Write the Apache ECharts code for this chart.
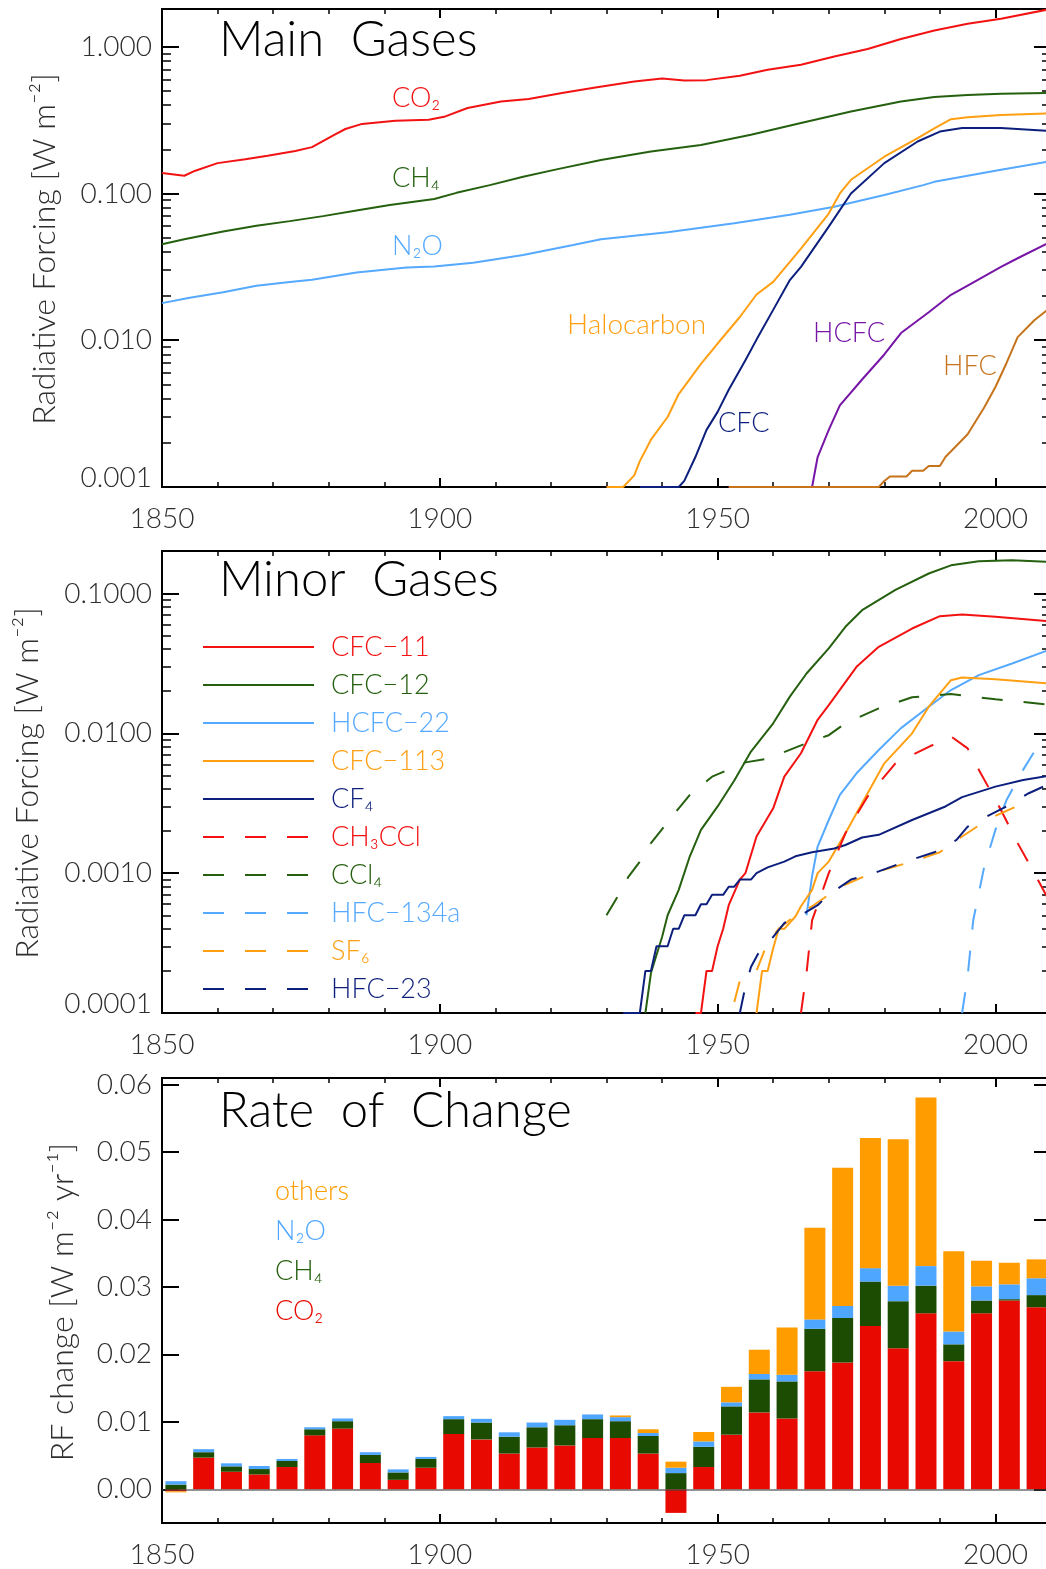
<!DOCTYPE html>
<html>
<head>
<meta charset="utf-8">
<script src="https://cdn.jsdelivr.net/npm/echarts@6/dist/echarts.min.js"></script>
<style>
html,body{margin:0;padding:0;background:#fff;}
#chart{width:1046px;height:1569px;}
</style>
</head>
<body>
<div id="chart"></div>
<script>
// ================= DATA =================
// x tick labels (years) shared by all three panels
const yearTicks = [1850, 1900, 1950, 2000];

// ---- Panel 1: Main Gases, radiative forcing [W m-2], [year, value]
const mainTickValues = [0.001, 0.01, 0.1, 1];
const mainTickLabels = ['0.001', '0.010', '0.100', '1.000'];
const mainNames = ['CO₂', 'CH₄', 'N₂O', 'Halocarbon', 'CFC', 'HCFC', 'HFC'];
const co2RF = [[1850,0.138],[1854,0.132],[1856,0.143],[1860,0.161],[1865,0.171],[1869,0.181],[1874,0.195],[1877,0.207],[1881,0.251],[1883,0.275],[1886,0.298],[1892,0.313],[1898,0.318],[1901,0.335],[1905,0.382],[1911,0.423],[1916,0.44],[1922,0.483],[1928,0.528],[1935,0.58],[1940,0.608],[1944,0.589],[1948,0.592],[1954,0.634],[1959,0.697],[1965,0.754],[1971,0.859],[1977,0.964],[1983,1.13],[1989,1.29],[1995,1.435],[2001,1.553],[2010,1.81]];
const ch4RF = [[1850,0.0451],[1854,0.0487],[1861,0.055],[1867,0.0602],[1873,0.0648],[1879,0.0701],[1885,0.0765],[1891,0.0836],[1899,0.0916],[1903,0.101],[1909,0.114],[1915,0.13],[1921,0.146],[1929,0.169],[1938,0.193],[1947,0.214],[1956,0.251],[1965,0.302],[1974,0.362],[1983,0.423],[1989,0.454],[1995,0.468],[2001,0.478],[2010,0.485]];
const n2oRF = [[1850,0.0179],[1855,0.0195],[1861,0.0212],[1867,0.0235],[1873,0.0249],[1877,0.0258],[1885,0.0289],[1894,0.0313],[1899,0.0318],[1906,0.0337],[1915,0.0381],[1924,0.0446],[1929,0.0487],[1941,0.0545],[1953,0.0627],[1963,0.0717],[1971,0.0813],[1980,0.0976],[1987,0.114],[1989,0.12],[2001,0.145],[2010,0.166]];
const halocarbonRF = [[1930,0.001],[1933,0.001],[1935,0.0012],[1936,0.0015],[1938,0.0021],[1941,0.003],[1943,0.0043],[1947,0.0069],[1950,0.0095],[1954,0.0144],[1957,0.0205],[1960,0.025],[1965,0.0421],[1970,0.073],[1972,0.1],[1974,0.124],[1980,0.178],[1986,0.238],[1989,0.278],[1992,0.321],[1995,0.331],[2001,0.342],[2010,0.351]];
const cfcRF = [[1936,0.001],[1943,0.001],[1944,0.0011],[1946,0.0016],[1948,0.00245],[1950,0.00325],[1952,0.0046],[1955,0.0073],[1957,0.0101],[1960,0.0161],[1963,0.0257],[1965,0.0316],[1970,0.0594],[1974,0.1],[1980,0.161],[1986,0.226],[1990,0.264],[1994,0.279],[2001,0.279],[2010,0.266]];
const hcfcRF = [[1952,0.001],[1967,0.001],[1968,0.0016],[1970,0.00245],[1972,0.0036],[1976,0.0054],[1980,0.008],[1983,0.0112],[1988,0.0155],[1992,0.0204],[1995,0.0236],[2001,0.0316],[2004,0.0362],[2010,0.047]];
const hfcRF = [[1952,0.001],[1979,0.001],[1980,0.0011],[1981,0.00118],[1984,0.00118],[1985,0.00129],[1987,0.00129],[1988,0.00139],[1990,0.00139],[1991,0.0016],[1995,0.00229],[1998,0.0035],[2000,0.0048],[2002,0.007],[2004,0.0105],[2007,0.0137],[2010,0.0168]];

// ---- Panel 2: Minor Gases [year, value]
const minorTickValues = [0.0001, 0.001, 0.01, 0.1];
const minorTickLabels = ['0.0001', '0.0010', '0.0100', '0.1000'];
const minorNames = ['CFC−11', 'CFC−12', 'HCFC−22', 'CFC−113', 'CF₄', 'CH₃CCl', 'CCl₄', 'HFC−134a', 'SF₆', 'HFC−23'];
const cfc11RF = [[1946,0.0001],[1947,0.0001],[1948,0.0002],[1949,0.0002],[1950,0.0003],[1951,0.0004],[1952,0.00059],[1954,0.0009],[1955,0.001],[1957,0.00183],[1960,0.00291],[1962,0.0049],[1965,0.0072],[1968,0.0125],[1970,0.0159],[1975,0.0299],[1979,0.0416],[1985,0.0562],[1990,0.0689],[1994,0.0708],[2000,0.0681],[2010,0.0632]];
const cfc12RF = [[1937,0.0001],[1938,0.000193],[1940,0.00035],[1941,0.0005],[1943,0.00076],[1945,0.00132],[1947,0.00204],[1950,0.003],[1953,0.0046],[1956,0.0074],[1960,0.0118],[1963,0.0183],[1966,0.0268],[1970,0.0405],[1973,0.0578],[1976,0.076],[1982,0.106],[1988,0.139],[1992,0.159],[1997,0.17],[2003,0.173],[2010,0.168]];
const hcfc22RF = [[1966,0.0005],[1967,0.00095],[1968,0.00155],[1970,0.0024],[1972,0.00363],[1975,0.00518],[1979,0.0076],[1983,0.0109],[1988,0.0155],[1992,0.0204],[1997,0.0261],[2003,0.0316],[2010,0.04]];
const cfc113RF = [[1957,0.0001],[1958,0.0002],[1959,0.0002],[1960,0.00029],[1961,0.0004],[1962,0.0004],[1964,0.00049],[1965,0.00058],[1967,0.00076],[1968,0.001],[1970,0.00121],[1973,0.00193],[1977,0.00373],[1980,0.0061],[1985,0.01],[1988,0.0155],[1992,0.024],[1994,0.0251],[2000,0.0244],[2010,0.0227]];
const cf4RF = [[1933,0.0001],[1936,0.0001],[1937,0.0002],[1938,0.0002],[1939,0.0003],[1941,0.0003],[1942,0.0004],[1943,0.0004],[1944,0.0005],[1946,0.0005],[1947,0.0006],[1948,0.0006],[1949,0.0007],[1951,0.0007],[1952,0.0008],[1953,0.0008],[1954,0.0009],[1956,0.0009],[1957,0.001],[1959,0.0011],[1962,0.00121],[1964,0.00132],[1967,0.00141],[1971,0.0015],[1973,0.00159],[1976,0.0018],[1979,0.00188],[1985,0.0024],[1991,0.003],[1994,0.0035],[2000,0.00416],[2005,0.00464],[2010,0.005]];
const ch3ccl3RF = [[1965,0.0001],[1966,0.000193],[1967,0.00046],[1970,0.001],[1973,0.00193],[1977,0.00353],[1982,0.0061],[1988,0.008],[1992,0.0095],[1995,0.0078],[1997,0.0055],[2001,0.00283],[2004,0.00164],[2007,0.001],[2010,0.0006]];
const ccl4RF = [[1930,0.0005],[1932,0.00068],[1934,0.00095],[1936,0.00121],[1938,0.00164],[1943,0.00291],[1945,0.00363],[1949,0.0049],[1955,0.0062],[1959,0.0066],[1966,0.0085],[1970,0.0097],[1973,0.0118],[1979,0.0151],[1985,0.0181],[1992,0.0191],[2000,0.0175],[2010,0.016]];
const hfc134aRF = [[1994,0.0001],[1995,0.000183],[1996,0.00046],[1998,0.00112],[2000,0.00204],[2002,0.00334],[2005,0.0055],[2007,0.0074],[2010,0.0095]];
const sf6RF = [[1953,0.00012],[1954,0.00017],[1957,0.0002],[1959,0.00032],[1961,0.0004],[1964,0.0005],[1967,0.00058],[1970,0.0007],[1973,0.00083],[1977,0.00097],[1981,0.00109],[1985,0.00121],[1990,0.00141],[1994,0.00183],[1999,0.00247],[2003,0.00291],[2006,0.00325]];
const hfc23RF = [[1954,0.0001],[1955,0.000155],[1956,0.000213],[1958,0.0003],[1960,0.00035],[1962,0.00044],[1965,0.0005],[1968,0.00059],[1970,0.0007],[1974,0.0009],[1979,0.00103],[1983,0.00118],[1989,0.00141],[1993,0.00173],[1995,0.00215],[1999,0.00261],[2002,0.003],[2006,0.00373],[2010,0.0044]];

// ---- Panel 3: Rate of change [W m-2 yr-1], 5-year bins
const rateTickValues = [0, 0.01, 0.02, 0.03, 0.04, 0.05, 0.06];
const rateTickLabels = ['0.00', '0.01', '0.02', '0.03', '0.04', '0.05', '0.06'];
const rateNames = ['CO₂', 'CH₄', 'N₂O', 'others'];
const binLabels = ['1850–1855','1855–1860','1860–1865','1865–1870','1870–1875','1875–1880','1880–1885','1885–1890','1890–1895','1895–1900','1900–1905','1905–1910','1910–1915','1915–1920','1920–1925','1925–1930','1930–1935','1935–1940','1940–1945','1945–1950','1950–1955','1955–1960','1960–1965','1965–1970','1970–1975','1975–1980','1980–1985','1985–1990','1990–1995','1995–2000','2000–2005','2005–2010'];
const co2Rate = [-0.0003,0.0047,0.0026,0.0022,0.0033,0.0080,0.0090,0.0039,0.0014,0.0032,0.0082,0.0074,0.0053,0.0062,0.0065,0.0076,0.0076,0.0053,-0.0035,0.0033,0.0081,0.0114,0.0105,0.0175,0.0188,0.0242,0.0209,0.0261,0.0190,0.0261,0.0280,0.0270];
const ch4Rate = [0.0007,0.0008,0.0008,0.0008,0.0009,0.0009,0.0011,0.0012,0.0011,0.0013,0.0022,0.0025,0.0025,0.0030,0.0030,0.0028,0.0025,0.0026,0.0024,0.0030,0.0042,0.0049,0.0055,0.0063,0.0066,0.0066,0.0070,0.0041,0.0025,0.0019,0.0002,0.0018];
const n2oRate = [0.0005,0.00045,0.00045,0.00045,0.0003,0.0003,0.0004,0.0004,0.00045,0.0003,0.00045,0.00055,0.00065,0.0007,0.0008,0.0007,0.0006,0.00045,0.0008,0.0008,0.0006,0.0008,0.0010,0.0014,0.0018,0.0020,0.0023,0.0029,0.0019,0.0021,0.0022,0.0025];
const othersRate = [-0.00015,0,0,0,0,0,0,0,0,0,0,0,0,0,0,0,0.00025,0.00055,0.0009,0.0014,0.0023,0.0036,0.0070,0.0136,0.0205,0.0193,0.0217,0.0250,0.0119,0.0038,0.0032,0.0028];

// ================= STYLE =================
const FONT = "Lato, 'DejaVu Sans', sans-serif";
const FW = 300;
const TICK_COLOR = '#2e2e2e';
const RED = '#f21212', GREEN = '#25600f', LBLUE = '#55a9ff', ORANGE = '#ff9f12',
      NAVY = '#0d1f7d', PURPLE = '#7615a6', BROWN = '#c6731b';
const BAR_RED = '#e80a00', BAR_GREEN = '#1b4c02', BAR_BLUE = '#4fa6ff', BAR_ORANGE = '#ff9c00';
const DASH = [21, 21];

const lg = v => Math.log10(v);
function minorLogTicks(n0, n1) {
  const out = [];
  for (let n = n0; n <= n1; n++) for (let k = 2; k <= 9; k++) out.push(Math.log10(k * Math.pow(10, n)));
  return out;
}

const chart = echarts.init(document.getElementById('chart'));

// the plot frames run 5 px past the right edge of the page (x = 2010 is just off-canvas)
const grids = [
  {left: 162, top: 9, width: 889, height: 478},
  {left: 162, top: 551, width: 889, height: 462},
  {left: 162, top: 1078, width: 889, height: 445}
].map(g => Object.assign(g, {outerBoundsMode: 'none', containLabel: false}));

function axLine() { return {show: true, onZero: false, lineStyle: {color: '#000', width: 2}}; }
function tick(len, w, custom) {
  const t = {show: true, inside: true, length: len, lineStyle: {color: '#000', width: w}};
  if (custom) t.customValues = custom;
  return t;
}

function xAxesFor(g) {
  const mk = (pos, t, lab) => ({gridIndex: g, type: 'value', min: 1850, max: 2010, interval: 10, position: pos,
    splitLine: {show: false}, axisLine: axLine(), axisTick: t, axisLabel: lab});
  const lab = {show: true, customValues: yearTicks.slice(), formatter: v => String(Math.round(v)), margin: 18,
    fontSize: 28, color: TICK_COLOR, fontFamily: FONT, fontWeight: FW};
  return [
    mk('bottom', tick(9, 2, yearTicks.slice()), lab),
    mk('bottom', tick(5, 1.5), {show: false}),
    mk('top', tick(9, 2, yearTicks.slice()), {show: false}),
    mk('top', tick(5, 1.5), {show: false})
  ];
}

function yAxesFor(g, min, max, majors, labels, minors) {
  const mk = (pos, t, lab) => ({gridIndex: g, type: 'value', min: min, max: max, position: pos,
    splitLine: {show: false}, axisLine: axLine(), axisTick: t, axisLabel: lab});
  const fmt = v => {
    let i = 0, best = 1e9;
    majors.forEach((m, j) => { if (Math.abs(m - v) < best) { best = Math.abs(m - v); i = j; } });
    return (i === 0 && g < 2) ? '{lo|' + labels[i] + '}' : labels[i];
  };
  const lab = {show: true, customValues: majors.slice(), formatter: fmt, margin: 10, fontSize: 28, color: TICK_COLOR, fontFamily: FONT, fontWeight: FW,
    rich: {lo: {fontSize: 28, color: TICK_COLOR, fontFamily: FONT, fontWeight: FW, padding: [0, 0, 18, 0]}}};
  const axes = [mk('left', tick(17, 2, majors.slice()), lab)];
  if (minors) axes.push(mk('left', tick(9, 1.5, minors.slice()), {show: false}));
  axes.push(mk('right', tick(17, 2, majors.slice()), {show: false}));
  if (minors) axes.push(mk('right', tick(9, 1.5, minors.slice()), {show: false}));
  return axes;
}

const xAxis = [].concat(xAxesFor(0), xAxesFor(1), xAxesFor(2));
// hidden category axis for the 5-year bins of panel 3 (index 12)
xAxis.push({gridIndex: 2, type: 'category', data: binLabels, show: false, boundaryGap: true, axisLine: {show: false, onZero: false}});
const yAxis = [].concat(
  yAxesFor(0, -3, 0.257, mainTickValues.map(lg), mainTickLabels, minorLogTicks(-3, -1)),
  yAxesFor(1, -4, -0.696, minorTickValues.map(lg), minorTickLabels, minorLogTicks(-4, -2)),
  yAxesFor(2, -0.005, 0.061, rateTickValues, rateTickLabels, null)
);
// axis indices: grid0 -> x0,y0 ; grid1 -> x4,y4 ; grid2 -> x12 (category), y8

function logLine(name, data, color, xi, yi, dashed) {
  return {
    name: name, type: 'line', xAxisIndex: xi, yAxisIndex: yi,
    data: data.map(p => [p[0], lg(p[1])]),
    showSymbol: false, symbol: 'none', clip: true, silent: true,
    lineStyle: {color: color, width: 2, type: dashed ? DASH : 'solid'},
    itemStyle: {color: color}
  };
}

const mainData = [co2RF, ch4RF, n2oRF, halocarbonRF, cfcRF, hcfcRF, hfcRF];
const mainColors = [RED, GREEN, LBLUE, ORANGE, NAVY, PURPLE, BROWN];
const minorData = [cfc11RF, cfc12RF, hcfc22RF, cfc113RF, cf4RF, ch3ccl3RF, ccl4RF, hfc134aRF, sf6RF, hfc23RF];
const minorColors = [RED, GREEN, LBLUE, ORANGE, NAVY, RED, GREEN, LBLUE, ORANGE, NAVY];
const minorDashed = [false, false, false, false, false, true, true, true, true, true];

const series = [];
mainData.forEach((d, i) => series.push(logLine('main ' + mainNames[i], d, mainColors[i], 0, 0, false)));
minorData.forEach((d, i) => series.push(logLine(minorNames[i], d, minorColors[i], 4, 4, minorDashed[i])));

const rateData = [co2Rate, ch4Rate, n2oRate, othersRate];
const rateColors = [BAR_RED, BAR_GREEN, BAR_BLUE, BAR_ORANGE];
rateData.forEach((vals, i) => {
  const s = {
    name: 'rate ' + rateNames[i], type: 'bar', xAxisIndex: 12, yAxisIndex: 8, stack: 'rate',
    barWidth: 21, silent: true, data: vals.slice(), itemStyle: {color: rateColors[i]}
  };
  if (i === rateData.length - 1) {
    s.markLine = {silent: true, symbol: 'none', animation: false, label: {show: false},
      lineStyle: {color: 'rgba(60,60,60,0.55)', width: 2, type: 'solid'}, data: [{yAxis: 0}]};
  }
  series.push(s);
});

function txt(x, y, text, color, size, extra) {
  return Object.assign({type: 'text', x: x, y: y, silent: true,
    style: Object.assign({text: text, fill: color, fontSize: size, fontFamily: FONT, fontWeight: FW, align: 'left', verticalAlign: 'middle'}, extra || {})});
}

const graphic = [
  // panel titles
  txt(219, 40, 'Main  Gases', '#000', 49),
  txt(219, 580, 'Minor  Gases', '#000', 49),
  txt(219, 1111, 'Rate  of  Change', '#000', 49),
  // y-axis names
  Object.assign(txt(45, 249, 'Radiative Forcing [W m⁻²]', TICK_COLOR, 32, {align: 'center'}), {rotation: Math.PI / 2}),
  Object.assign(txt(28, 783, 'Radiative Forcing [W m⁻²]', TICK_COLOR, 32, {align: 'center'}), {rotation: Math.PI / 2}),
  Object.assign(txt(63, 1302, 'RF change [W m⁻² yr⁻¹]', TICK_COLOR, 32, {align: 'center'}), {rotation: Math.PI / 2}),
  // panel 1 curve labels
  txt(392, 98, 'CO₂', RED, 27),
  txt(392, 178, 'CH₄', GREEN, 27),
  txt(392, 246, 'N₂O', LBLUE, 27),
  txt(567, 325, 'Halocarbon', ORANGE, 28),
  txt(718, 423, 'CFC', NAVY, 27),
  txt(813, 333, 'HCFC', PURPLE, 27),
  txt(943, 366, 'HFC', BROWN, 27),
  // panel 3 key
  txt(275, 1191, 'others', BAR_ORANGE, 27),
  txt(275, 1231, 'N₂O', BAR_BLUE, 27),
  txt(275, 1271, 'CH₄', GREEN, 27),
  txt(275, 1311, 'CO₂', BAR_RED, 27)
];

chart.setOption({
  backgroundColor: '#fff',
  animation: false,
  grid: grids,
  xAxis: xAxis,
  yAxis: yAxis,
  legend: {
    show: true, selectedMode: false, orient: 'vertical', left: 202, top: 632, padding: 0,
    itemWidth: 111, itemHeight: 14, itemGap: 8,
    itemStyle: {color: 'transparent', borderColor: 'transparent', borderWidth: 0},
    data: minorNames.map((n, i) => ({name: n, textStyle: {color: minorColors[i]}})),
    textStyle: {fontFamily: FONT, fontSize: 27, fontWeight: FW, lineHeight: 30, padding: [0, 0, 0, 12]}
  },
  series: series,
  graphic: graphic
});
</script>
</body>
</html>
